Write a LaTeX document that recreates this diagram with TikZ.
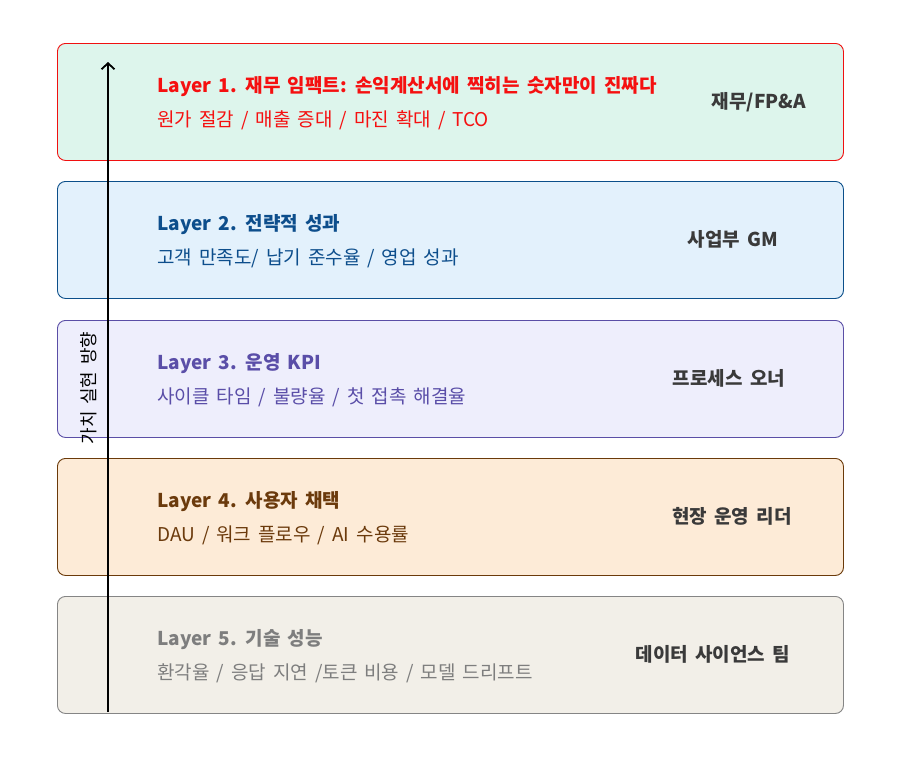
\documentclass[tikz,border=0pt]{standalone}
\usepackage{fontspec}
\setmainfont{Noto Sans CJK KR}[WordSpace=1.65]
\usetikzlibrary{arrows.meta}
\definecolor{fillA}{HTML}{DDF5EC}\definecolor{lineA}{HTML}{F01010}\definecolor{textA}{HTML}{F51010}
\definecolor{fillB}{HTML}{E3F1FC}\definecolor{lineB}{HTML}{0B4F8A}\definecolor{textB}{HTML}{0D4E8C}
\definecolor{fillC}{HTML}{EEEEFC}\definecolor{lineC}{HTML}{5A4EA6}\definecolor{textC}{HTML}{5A4EA8}
\definecolor{fillD}{HTML}{FDEBD7}\definecolor{lineD}{HTML}{6B3A0A}\definecolor{textD}{HTML}{6B3A0C}
\definecolor{fillE}{HTML}{F2EFE8}\definecolor{lineE}{HTML}{858585}\definecolor{textE}{HTML}{7E7E7E}
\definecolor{ownercol}{HTML}{3A3A3A}
\tikzset{
  layerbox/.style={draw, rounded corners=8pt, line width=0.9pt, minimum width=786pt, minimum height=117pt, inner sep=0pt, anchor=north west},
  titletext/.style={anchor=base west, inner sep=0pt, font=\fontsize{19}{22}\selectfont\bfseries},
  subtext/.style={anchor=base west, inner sep=0pt, font=\fontsize{19}{22}\selectfont},
  ownertext/.style={anchor=base, inner sep=0pt, text=ownercol, font=\fontsize{19}{22}\selectfont\bfseries},
}
\begin{document}
\begin{tikzpicture}[x=1pt,y=-1pt]
\useasboundingbox[fill=white] (0,0) rectangle (900,756);
% boxes
\node[layerbox, fill=fillA, draw=lineA] (L1) at (57,43) {};
\node[layerbox, fill=fillB, draw=lineB] (L2) at (57,181) {};
\node[layerbox, fill=fillC, draw=lineC] (L3) at (57,320) {};
\node[layerbox, fill=fillD, draw=lineD] (L4) at (57,458) {};
\node[layerbox, fill=fillE, draw=lineE] (L5) at (57,596) {};
% texts layer 1
\node[titletext, text=textA] (t1) at (157,92) {Layer 1. 재무 임팩트: 손익계산서에 찍히는 숫자만이 진짜다};
\node[subtext, text=textA] (s1) at (157,126) {원가 절감 / 매출 증대 / 마진 확대 / TCO};
\node[ownertext] (o1) at (759,108.5) {재무/FP\&A};
% layer 2
\node[titletext, text=textB] (t2) at (157,230) {Layer 2. 전략적 성과};
\node[subtext, text=textB] (s2) at (157,264) {고객 만족도/ 납기 준수율 / 영업 성과};
\node[ownertext] (o2) at (733,246.5) {사업부 GM};
% layer 3
\node[titletext, text=textC] (t3) at (157,369) {Layer 3. 운영 KPI};
\node[subtext, text=textC] (s3) at (157,403) {사이클 타임 / 불량율 / 첫 접촉 해결율};
\node[ownertext] (o3) at (729,385.5) {프로세스 오너};
% layer 4
\node[titletext, text=textD] (t4) at (157,507) {Layer 4. 사용자 채택};
\node[subtext, text=textD] (s4) at (157,541) {DAU / 워크 플로우 / AI 수용률};
\node[ownertext] (o4) at (732,523.5) {현장 운영 리더};
% layer 5
\node[titletext, text=textE] (t5) at (157,645) {Layer 5. 기술 성능};
\node[subtext, text=textE] (s5) at (157,679) {환각율 / 응답 지연 /토큰 비용 / 모델 드리프트};
\node[ownertext] (o5) at (713,661.5) {데이터 사이언스 팀};
% arrow
\coordinate (arrowStart) at (108,712);
\coordinate (arrowEnd) at (108,62);
\draw[line width=1.8pt, -{Straight Barb[length=6pt, width=13pt, line width=1.8pt]}] (arrowStart) -- (arrowEnd);
\node[rotate=90, inner sep=0pt, font=\fontsize{18}{21}\selectfont] (vlabel) at (89,388) {가치 실현 방향};
\end{tikzpicture}
\end{document}
